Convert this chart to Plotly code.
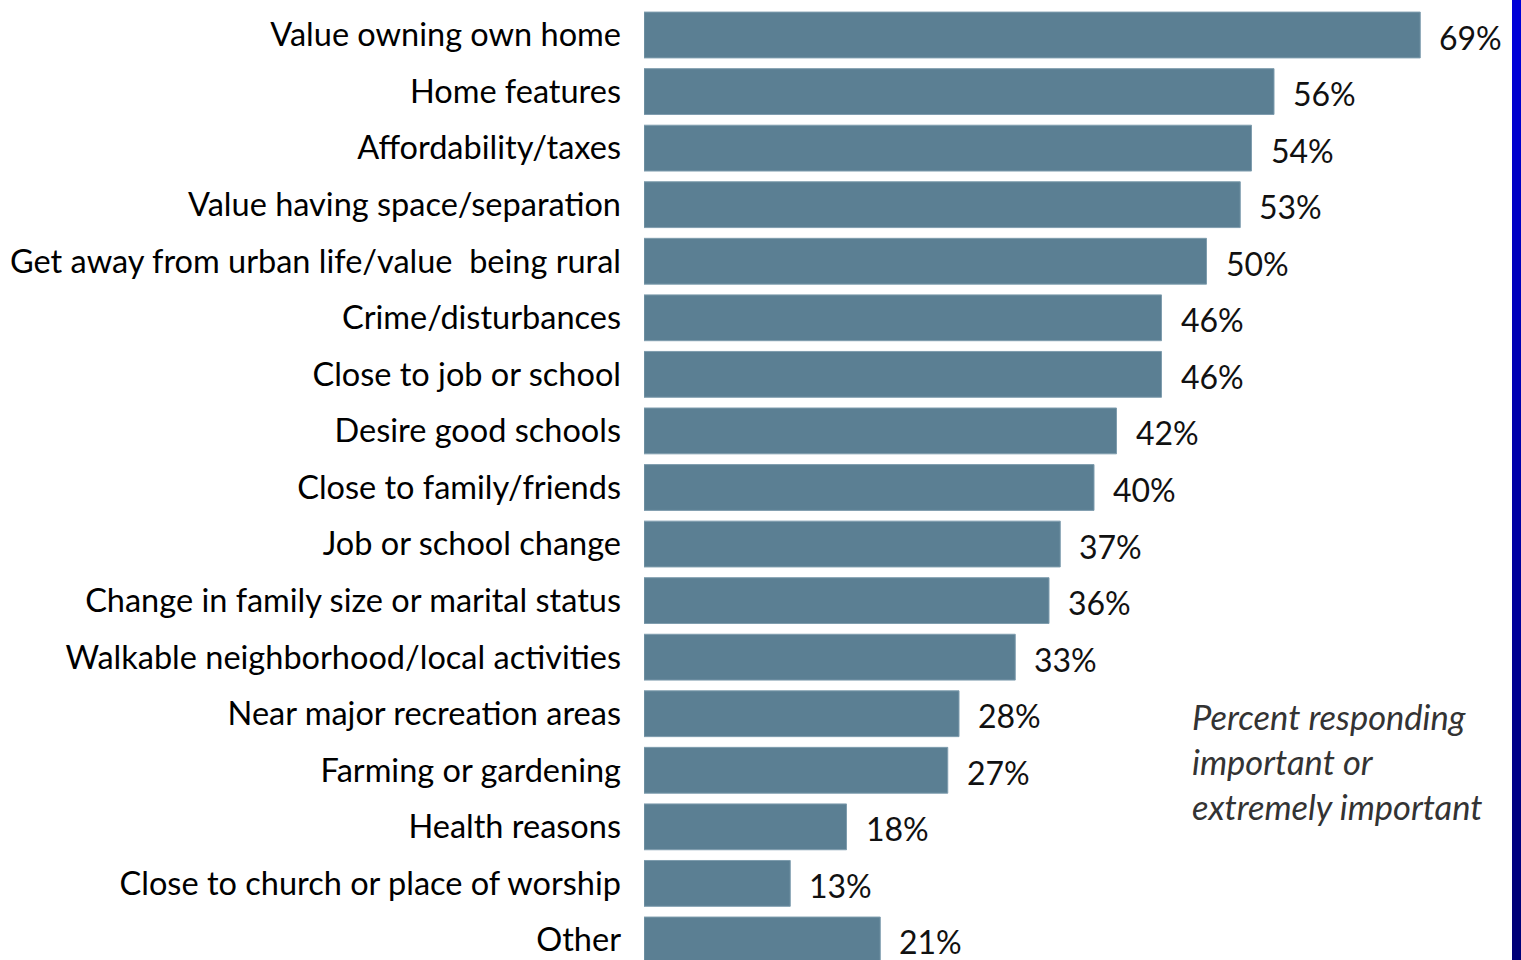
import plotly.graph_objects as go

categories = [
    "Value owning own home",
    "Home features",
    "Affordability/taxes",
    "Value having space/separation",
    "Get away from urban life/value  being rural",
    "Crime/disturbances",
    "Close to job or school",
    "Desire good schools",
    "Close to family/friends",
    "Job or school change",
    "Change in family size or marital status",
    "Walkable neighborhood/local activities",
    "Near major recreation areas",
    "Farming or gardening",
    "Health reasons",
    "Close to church or place of worship",
    "Other",
]
values = [69, 56, 54, 53, 50, 46, 46, 42, 40, 37, 36, 33, 28, 27, 18, 13, 21]
value_labels = [f"{v}%" for v in values]
note_text = "Percent responding<br>important or<br>extremely important"

W, H = 1521, 960
left, right = 644, 9
plot_w = W - left - right
px_per_pct = 11.25
x_max = plot_w / px_per_pct
pitch = 56.56
y_top = -35 / pitch
y_bot = y_top + H / pitch

fig = go.Figure()
fig.add_trace(go.Bar(
    y=categories, x=values, orientation="h",
    width=0.81,
    marker=dict(color="#5b7f93", line=dict(color="#7f9dae", width=1)),
    hoverinfo="skip",
))

for c, v, t in zip(categories, values, value_labels):
    fig.add_annotation(x=v, y=c, text=t, showarrow=False, xanchor="left",
                       xshift=17, yshift=-2,
                       font=dict(family="Lato", size=32, color="#111111"))

fig.add_annotation(xref="paper", yref="paper", x=(1190 - left) / plot_w, y=1 - 694 / H,
                   text=note_text, showarrow=False, xanchor="left", yanchor="top",
                   align="left",
                   font=dict(family="Lato", size=34.5, color="#333333", style="italic"))

# blue strip on right edge (gradient)
n = 12
for i in range(n):
    b = int(215 - (215 - 120) * i / (n - 1))
    fig.add_shape(type="rect", xref="paper", yref="paper",
                  x0=1, x1=1 + (right + 2) / plot_w,
                  y0=1 - (i + 1) / n, y1=1 - i / n,
                  fillcolor=f"rgb(0,0,{b})", line=dict(width=0), layer="above")

fig.update_layout(
    width=W, height=H,
    margin=dict(l=left, r=right, t=0, b=0),
    paper_bgcolor="white", plot_bgcolor="white",
    showlegend=False,
    xaxis=dict(range=[0, x_max], visible=False),
    yaxis=dict(range=[y_bot, y_top], showgrid=False, zeroline=False, showline=False,
               ticks="", ticklabelstandoff=22,
               tickfont=dict(family="Lato", size=32.5, color="#000000")),
)

fig.write_html("out.html", config={"displayModeBar": False},
               post_script="document.body.style.margin='0';document.body.style.overflow='hidden';")
